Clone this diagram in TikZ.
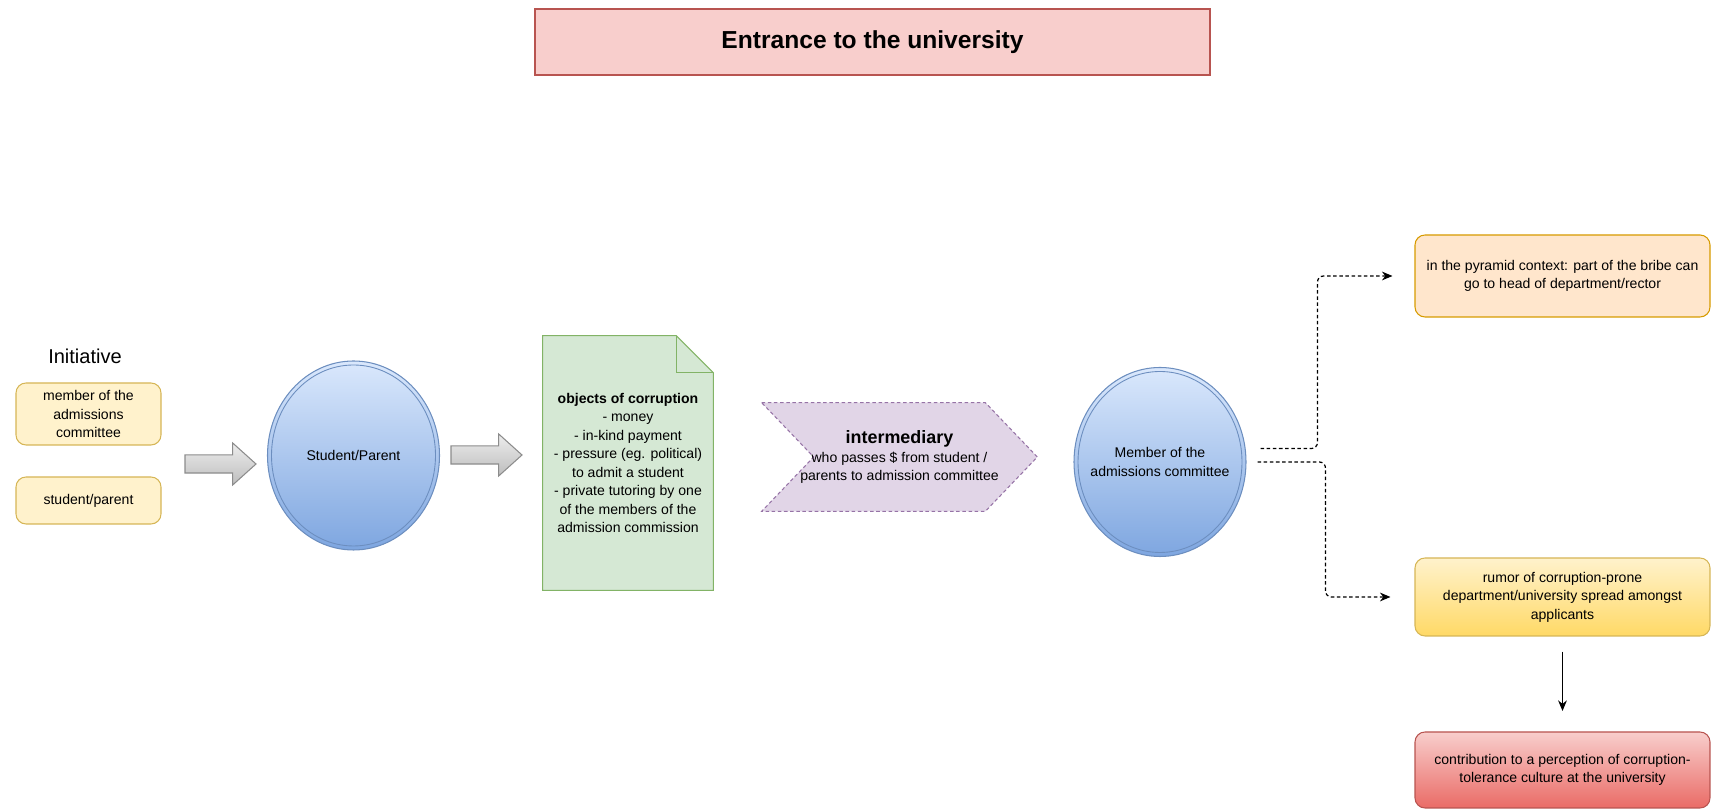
\documentclass[tikz,border=0pt]{standalone}
\usepackage{fontspec}
\setmainfont{Liberation Sans}
\usetikzlibrary{shapes.geometric,shapes.arrows,arrows.meta,backgrounds}

\definecolor{titlefill}{HTML}{F8CECC}
\definecolor{titleline}{HTML}{B85450}
\definecolor{initfill}{HTML}{FFF2CC}
\definecolor{initline}{HTML}{D6B656}
\definecolor{arrtop}{HTML}{EDEDED}
\definecolor{arrbot}{HTML}{BDBDBD}
\definecolor{arrline}{HTML}{8C8C8C}
\definecolor{circtop}{HTML}{DAE8FC}
\definecolor{circbot}{HTML}{7EA6E0}
\definecolor{circline}{HTML}{6C8EBF}
\definecolor{docfill}{HTML}{D5E8D4}
\definecolor{docline}{HTML}{82B366}
\definecolor{midfill}{HTML}{E1D5E7}
\definecolor{midline}{HTML}{9673A6}
\definecolor{pyrfill}{HTML}{FFE6CC}
\definecolor{pyrline}{HTML}{D79B00}
\definecolor{rumorbot}{HTML}{FFD966}
\definecolor{contribbot}{HTML}{EA6B66}

\begin{document}
\begin{tikzpicture}[
	every node/.style={font=\fontsize{8}{10.5}\selectfont, align=center},
	box/.style={rectangle, rounded corners=0.2cm, line width=0.6pt, inner sep=2pt},
	initbox/.style={box, draw=initline, fill=initfill, minimum width=2.9cm},
	outbox/.style={box, minimum width=5.9cm},
	blockarr/.style={single arrow, draw=arrline, line width=0.6pt, top color=arrtop, bottom color=arrbot,
		minimum height=1.42cm, minimum width=0.82cm, inner sep=0.17cm,
		single arrow head extend=0.24cm, single arrow tip angle=84},
	person/.style={ellipse, draw=circline, line width=0.6pt, top color=circtop, bottom color=circbot,
		minimum width=3.44cm, minimum height=3.78cm, inner sep=-4mm},
	ring/.style={draw=circline, line width=0.5pt},
	link/.style={dash pattern=on 2pt off 1.5pt, line width=0.7pt, rounded corners=0.12cm,
		-{Stealth[length=6pt,width=5pt]}}
	]
	\useasboundingbox (0,0) rectangle (34.22,16.2);
	\node[draw=titleline, fill=titlefill, line width=0.6pt, minimum width=13.5cm, minimum height=1.32cm,
		font=\fontsize{14}{17}\selectfont\bfseries] (title) at (17.45,15.36) {Entrance to the university};
	\node[font=\fontsize{11.4}{14}\selectfont] (init) at (1.70,9.08) {Initiative};
	\node[initbox, minimum height=1.24cm] (ini1) at (1.77,7.92) {member of the\\admissions\\committee};
	\node[initbox, minimum height=0.94cm] (ini2) at (1.77,6.19) {student/parent};
	\node[blockarr] (arr1) at (4.31,6.92) {};
	\node[person] (sp) at (7.07,7.09) {Student/Parent};
	\draw[ring] (sp.center) ellipse (1.64 and 1.81);
	\node[blockarr] (arr2) at (9.63,7.1) {};
	\node[minimum width=3.4cm, minimum height=5.08cm] (obj) at (12.56,6.94)
		{\textbf{objects of corruption}\\- money\\- in-kind payment\\- pressure (eg. political)\\to admit a student\\- private tutoring by one\\of the members of the\\admission commission};
	\node[minimum width=5.5cm, minimum height=2.16cm] (mid) at (17.99,7.06)
		{{\fontsize{10.2}{12}\selectfont\bfseries intermediary}\\who passes \$ from student /\\parents to admission committee};
	\node[person] (mac) at (23.2,6.96) {Member of the\\admissions committee};
	\draw[ring] (mac.center) ellipse (1.64 and 1.81);
	\node[outbox, draw=pyrline, fill=pyrfill, minimum height=1.64cm] (pyr) at (31.25,10.68)
		{in the pyramid context: part of the bribe can\\go to head of department/rector};
	\node[outbox, draw=initline, top color=initfill, bottom color=rumorbot, minimum height=1.56cm] (rumor) at (31.25,4.26)
		{rumor of corruption-prone\\department/university spread amongst\\applicants};
	\node[outbox, draw=titleline, top color=titlefill, bottom color=contribbot, minimum height=1.52cm] (contrib) at (31.25,0.8)
		{contribution to a perception of corruption-\\tolerance culture at the university};
	\begin{scope}[on background layer]
	\filldraw[fill=docfill, draw=docline, line width=0.6pt] (obj.south west) -- (obj.south east)
		-- ([yshift=-0.74cm]obj.north east) -- ([xshift=-0.74cm]obj.north east) -- (obj.north west) -- cycle;
	\draw[docline, line width=0.6pt] ([xshift=-0.74cm]obj.north east) |- ([yshift=-0.74cm]obj.north east);
	\filldraw[fill=midfill, draw=midline, line width=0.6pt, dash pattern=on 2pt off 1.5pt] (mid.north west)
		-- ([xshift=-1.04cm]mid.north east) -- (mid.east) -- ([xshift=-1.04cm]mid.south east)
		-- (mid.south west) -- ([xshift=1.04cm]mid.west) -- cycle;
	\end{scope}
	\draw[link] ([shift={(0.28,0.27)}]mac.east) -| ([xshift=-1.94cm]pyr.west) -- ([xshift=-0.44cm]pyr.west);
	\draw[link] ([xshift=0.22cm]mac.east) -| ([xshift=-1.78cm]rumor.west) -- ([xshift=-0.48cm]rumor.west);
	\draw[-{Stealth[length=6pt,width=5pt]}, line width=0.7pt, shorten <=0.3cm, shorten >=0.41cm] (rumor) -- (contrib);
\end{tikzpicture}
\end{document}
